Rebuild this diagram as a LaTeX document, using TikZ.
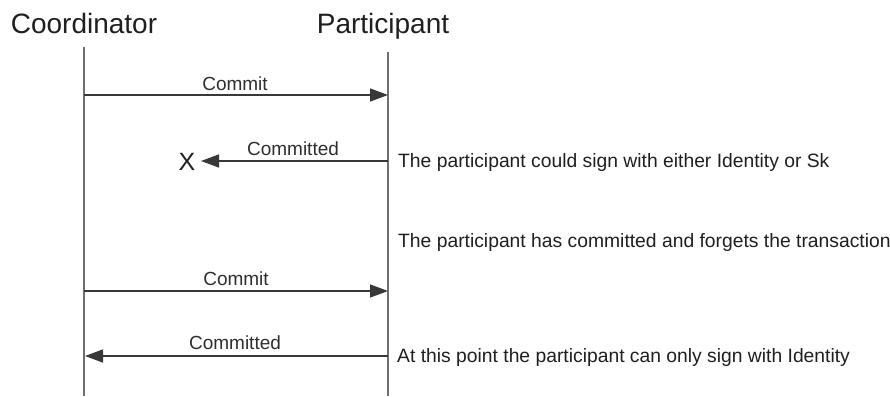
\documentclass[tikz,border=0pt]{standalone}
\usepackage{fontspec}
\setmainfont{Liberation Sans}
\usetikzlibrary{arrows.meta}
\definecolor{lifegray}{HTML}{707070}
\definecolor{msggray}{HTML}{383838}
\begin{document}
\begin{tikzpicture}[x=1pt,y=-1pt,
  header/.style={font=\fontsize{28}{32}\selectfont, text=black!88, inner sep=0pt, anchor=base},
  msglabel/.style={font=\fontsize{19}{22}\selectfont, text=black!82, inner sep=0pt, anchor=base},
  note/.style={font=\fontsize{19.3}{22}\selectfont, text=black!88, inner sep=0pt, anchor=base west},
  lifeline/.style={draw=lifegray, line width=1.6pt},
  msg/.style={draw=msggray, line width=1.4pt, -{Triangle[length=18pt,width=13pt]}}]
\useasboundingbox (0,0) rectangle (890,396);
% headers
\node[header] (coord) at (84,34) {Coordinator};
\node[header] (part) at (383,34) {Participant};
% lifeline endpoints
\coordinate (ctop) at (84,47);
\coordinate (cbot) at (84,396);
\coordinate (ptop) at (388,52);
\coordinate (pbot) at (388,396);
\draw[lifeline] (ctop) -- (cbot);
\draw[lifeline] (ptop) -- (pbot);
% message anchors
\coordinate (c1) at (84,95);  \coordinate (p1) at (388,95);
\coordinate (p2) at (388,161); \coordinate (x2) at (201,161);
\coordinate (c3) at (84,291); \coordinate (p3) at (388,291);
\coordinate (c4) at (85,356); \coordinate (p4) at (388,356);
% lost message marker
\node[header, font=\fontsize{25}{28}\selectfont] (lost) at (187,170) {X};
\draw[msg] (c1) -- (p1);
\draw[msg] (p2) -- (x2);
\draw[msg] (c3) -- (p3);
\draw[msg] (p4) -- (c4);
% labels
\node[msglabel] (l1) at (235,90) {Commit};
\node[msglabel] (l2) at (293,155) {Committed};
\node[msglabel] (l3) at (236,285) {Commit};
\node[msglabel] (l4) at (235,349) {Committed};
% notes
\node[note] (n1) at (398,167) {The participant could sign with either Identity or Sk};
\node[note] (n2) at (398,247) {The participant has committed and forgets the transaction};
\node[note] (n3) at (397,362) {At this point the participant can only sign with Identity};
\end{tikzpicture}
\end{document}
